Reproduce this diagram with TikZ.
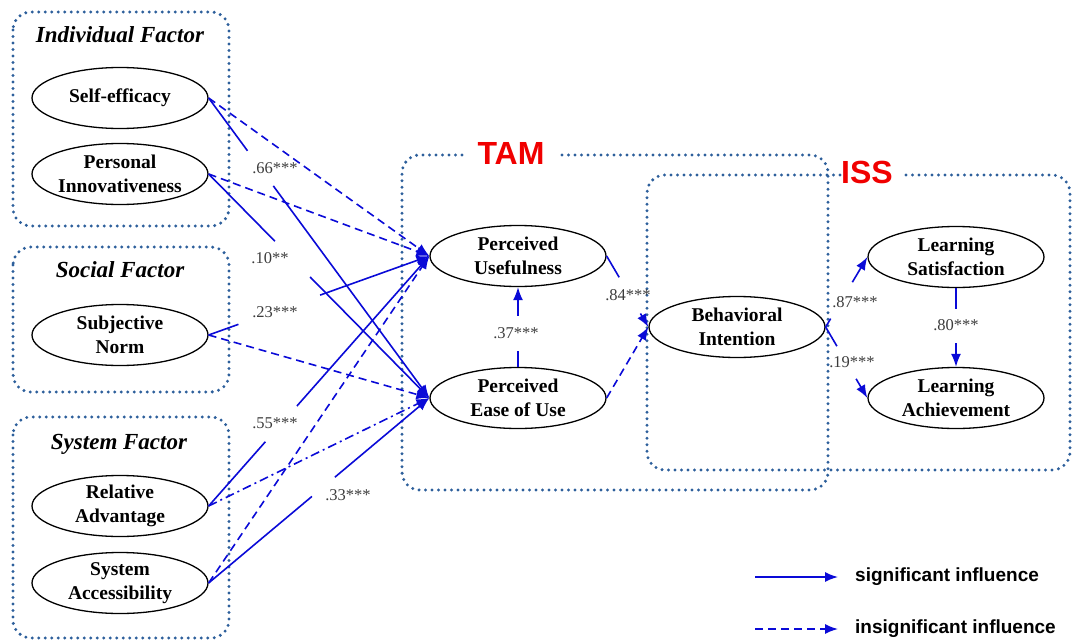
\documentclass[tikz,border=0pt]{standalone}
\usepackage{fontspec}
\setmainfont{Liberation Serif}
\newfontfamily\legfont{Liberation Sans}
\usetikzlibrary{shapes.geometric,arrows.meta,calc}
\definecolor{boxc}{RGB}{45,95,155}
\definecolor{conn}{RGB}{10,10,215}
\definecolor{labc}{RGB}{60,60,60}
\definecolor{redc}{RGB}{240,0,0}
\newcommand{\gapped}[5]{%
  \draw[#1] (#2) -- ($(#2)!#4!(#3)$);
  \draw[#1,arr] ($(#2)!#5!(#3)$) -- (#3);}
\begin{document}
\begin{tikzpicture}[x=1pt,y=-1pt,
  ell/.style={ellipse, draw, line width=1.3pt, minimum width=176pt, minimum height=61pt,
    inner sep=0pt, align=center, font=\fontsize{19.5}{23.5}\selectfont\bfseries},
  grp/.style={draw=boxc, line width=3.3pt, dash pattern=on 0pt off 6.5pt, line cap=round, rounded corners=18pt},
  ttl/.style={font=\fontsize{23}{27}\selectfont\bfseries\itshape},
  sig/.style={draw=conn, line width=1.6pt},
  ins/.style={sig, dash pattern=on 8pt off 5pt},
  dd/.style={sig, dash pattern=on 9pt off 4pt on 2pt off 4pt},
  arr/.style={-{Latex[length=13pt,width=10pt]}},
  lab/.style={text=labc, font=\fontsize{16.5}{18}\selectfont, inner sep=0pt},
  big/.style={text=redc, font=\legfont\bfseries\fontsize{32}{32}\selectfont, inner sep=0pt},
  leg/.style={font=\legfont\bfseries\fontsize{19}{22}\selectfont, anchor=west, inner sep=0pt}]
\useasboundingbox (0,0) rectangle (1073,642);

% group boxes
\draw[grp] (13,12) rectangle (229,226);
\draw[grp] (13,247) rectangle (229,392);
\draw[grp] (13,417) rectangle (229,638);
\draw[grp] (462,155) -- (402,155) -- (402,490) -- (828,490) -- (828,155) -- (560,155);
\draw[grp] (840,175) -- (647,175) -- (647,470) -- (1070,470) -- (1070,175) -- (903,175);

% titles
\node[ttl] (t1) at (120,35) {Individual Factor};
\node[ttl] (t2) at (120,270) {Social Factor};
\node[ttl] (t3) at (119,444) {System Factor};
\node[big] (tam) at (511,153) {TAM};
\node[big] (iss) at (867,172) {ISS};

% constructs
\node[ell] (se) at (120,98) {Self-efficacy};
\node[ell] (pi) at (120,174) {Personal\\Innovativeness};
\node[ell] (sn) at (120,335) {Subjective\\Norm};
\node[ell] (ra) at (120,506) {Relative\\Advantage};
\node[ell] (sa) at (120,583) {System\\Accessibility};
\node[ell] (pu) at (518,256) {Perceived\\Usefulness};
\node[ell] (peou) at (518,398) {Perceived\\Ease of Use};
\node[ell] (bi) at (737,327) {Behavioral\\Intention};
\node[ell] (ls) at (956,257) {Learning\\Satisfaction};
\node[ell] (la) at (956,398) {Learning\\Achievement};

% connectors
\draw[ins,arr] (se.east) -- (pu.west);
\gapped{sig}{se.east}{peou.west}{0.176}{0.293}
\draw[ins,arr] (pi.east) -- (pu.west);
\gapped{sig}{pi.east}{peou.west}{0.30}{0.46}
\gapped{sig}{sn.east}{pu.west}{0.135}{0.505}
\draw[ins,arr] (sn.east) -- (peou.west);
\gapped{sig}{ra.east}{pu.west}{0.257}{0.40}
\draw[dd,arr] (ra.east) -- (peou.west);
\draw[ins,arr] (sa.east) -- (pu.west);
\gapped{sig}{sa.east}{peou.west}{0.468}{0.572}
\gapped{sig}{peou.north}{pu.south}{0.20}{0.64}
\gapped{sig}{pu.east}{bi.west}{0.30}{0.81}
\draw[ins,arr] (peou.east) -- (bi.west);
\gapped{sig}{bi.east}{ls.west}{0.12}{0.64}
\gapped{sig}{bi.east}{la.west}{0.27}{0.73}
\gapped{sig}{ls.south}{la.north}{0.26}{0.70}

% coefficients
\node[lab] (l66) at (275,168) {.66***};
\node[lab] (l10) at (270,258) {.10**};
\node[lab] (l23) at (275,312) {.23***};
\node[lab] (l55) at (275,423) {.55***};
\node[lab] (l33) at (348,495) {.33***};
\node[lab] (l37) at (516,333) {.37***};
\node[lab] (l84) at (628,295) {.84***};
\node[lab] (l87) at (855,302) {.87***};
\node[lab] (l19) at (852,362) {.19***};
\node[lab] (l80) at (956,325) {.80***};

% legend
\coordinate (g1a) at (755,577);
\coordinate (g1b) at (838,577);
\coordinate (g2a) at (755,629);
\coordinate (g2b) at (838,629);
\draw[sig,arr] (g1a) -- (g1b);
\draw[ins,arr] (g2a) -- (g2b);
\node[leg] (g1t) at (855,577) {significant influence};
\node[leg] (g2t) at (855,629) {insignificant influence};
\end{tikzpicture}
\end{document}
